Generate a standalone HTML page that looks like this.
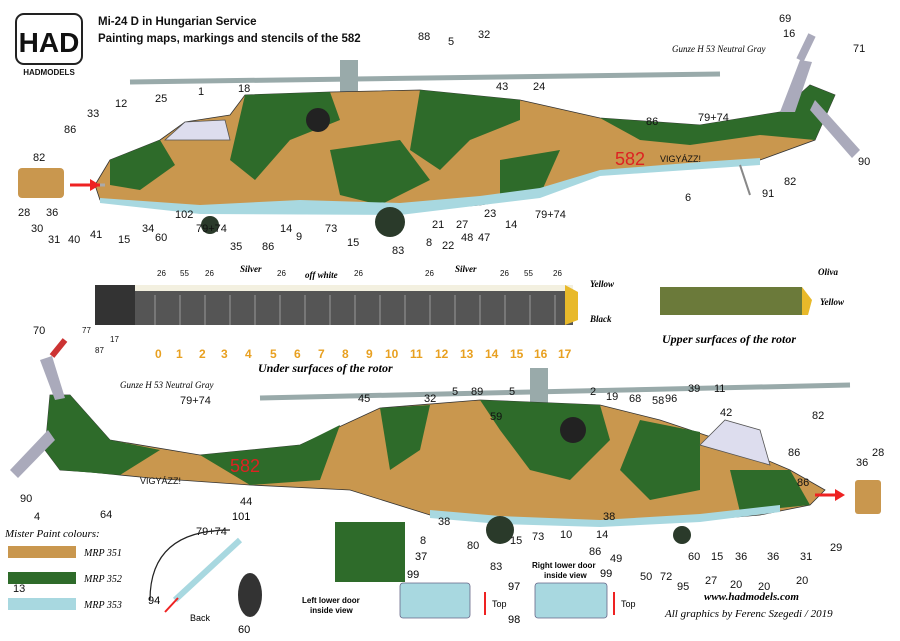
<!DOCTYPE html>
<html><head><meta charset="utf-8"><style>
body{margin:0;background:#fff;width:900px;height:636px;overflow:hidden;font-family:"Liberation Sans",sans-serif}
</style></head><body>
<svg width="900" height="636" viewBox="0 0 900 636" xmlns="http://www.w3.org/2000/svg" font-family="Liberation Sans, sans-serif">
<rect width="900" height="636" fill="#fff"/>
<!-- logo -->
<rect x="16" y="14" width="66" height="50" rx="8" fill="#fff" stroke="#222" stroke-width="2"/>
<text x="49" y="52" font-size="28" font-weight="bold" text-anchor="middle" fill="#111">HAD</text>
<text x="49" y="75" font-size="8" font-weight="bold" text-anchor="middle" fill="#111">HADMODELS</text>
<text x="98" y="25" font-size="11.5" font-weight="bold" fill="#111">Mi-24 D in Hungarian Service</text>
<text x="98" y="42" font-size="11.5" font-weight="bold" fill="#111">Painting maps, markings and stencils of the 582</text>

<!-- TOP HELICOPTER -->
<line x1="130" y1="82" x2="720" y2="74" stroke="#9aa" stroke-width="5"/>
<rect x="340" y="60" width="18" height="35" fill="#9aa"/>
<path d="M95,185 L110,160 L160,140 L185,122 L230,115 L245,95 L330,92 L420,90 L520,100 L600,118 L700,125 L780,112 L810,85 L835,95 L815,140 L760,160 L700,165 L600,172 L540,195 L480,205 L400,212 L300,210 L200,212 L130,205 L100,200 Z" fill="#c9974e" stroke="#333" stroke-width="0.8"/>
<path d="M245,95 L330,92 L340,120 L290,140 L255,180 L230,160 Z" fill="#2e6b2a"/>
<path d="M420,90 L520,100 L520,120 L470,140 L440,170 L410,150 Z" fill="#2e6b2a"/>
<path d="M600,118 L700,125 L780,112 L810,85 L835,95 L815,140 L760,135 L690,145 L640,140 Z" fill="#2e6b2a"/>
<path d="M110,160 L160,140 L175,165 L140,190 L110,185 Z" fill="#2e6b2a"/>
<path d="M330,150 L400,140 L430,180 L380,205 L340,195 Z" fill="#2e6b2a"/>
<path d="M500,160 L560,150 L540,195 L500,200 Z" fill="#2e6b2a"/>
<path d="M100,198 L200,205 L300,200 L400,203 L480,196 L540,188 L600,170 L700,162 L760,158 L760,165 L600,176 L540,198 L400,215 L200,214 L100,203 Z" fill="#a8d8e0"/>
<path d="M165,140 L185,122 L225,120 L230,140 Z" fill="#dde" stroke="#555" stroke-width="0.8"/>
<circle cx="318" cy="120" r="12" fill="#222"/>
<circle cx="210" cy="225" r="9" fill="#2a3a2a"/>
<circle cx="390" cy="222" r="15" fill="#2a3a2a"/>
<text x="615" y="165" font-size="18" fill="#d22">582</text>
<text x="660" y="162" font-size="9" fill="#111">VIGYÁZZ!</text>
<line x1="740" y1="165" x2="750" y2="195" stroke="#888" stroke-width="2"/>
<path d="M780,112 L800,60 L812,62 L795,112 Z" fill="#aab"/>
<path d="M815,100 L860,150 L852,158 L810,110 Z" fill="#aab"/>
<path d="M800,60 L812,35" stroke="#aab" stroke-width="8"/>
<path d="M80,185 L105,185" stroke="#aaa" stroke-width="3"/>
<rect x="18" y="168" width="46" height="30" rx="4" fill="#c9974e"/>
<path d="M70,185 L100,185" stroke="#e22" stroke-width="3"/>
<path d="M100,185 L90,179 L90,191 Z" fill="#e22"/>
<text x="672" y="52" font-size="9" font-style="italic" font-family="Liberation Serif,serif">Gunze H 53 Neutral Gray</text>
<g font-size="11" fill="#111">
<text x="779" y="22">69</text><text x="783" y="37">16</text><text x="853" y="52">71</text>
<text x="418" y="40">88</text><text x="448" y="45">5</text><text x="478" y="38">32</text>
<text x="496" y="90">43</text><text x="533" y="90">24</text><text x="238" y="92">18</text><text x="198" y="95">1</text>
<text x="155" y="102">25</text><text x="115" y="107">12</text><text x="87" y="117">33</text><text x="64" y="133">86</text>
<text x="33" y="161">82</text><text x="646" y="125">86</text><text x="698" y="121">79+74</text>
<text x="858" y="165">90</text><text x="784" y="185">82</text><text x="762" y="197">91</text><text x="685" y="201">6</text>
<text x="18" y="216">28</text><text x="46" y="216">36</text><text x="31" y="232">30</text><text x="48" y="243">31</text>
<text x="68" y="243">40</text><text x="90" y="238">41</text><text x="118" y="243">15</text><text x="142" y="232">34</text>
<text x="155" y="241">60</text><text x="175" y="218">102</text><text x="196" y="232">79+74</text><text x="230" y="250">35</text>
<text x="262" y="250">86</text><text x="280" y="232">14</text><text x="296" y="240">9</text><text x="325" y="232">73</text>
<text x="347" y="246">15</text><text x="392" y="254">83</text><text x="426" y="246">8</text><text x="432" y="228">21</text>
<text x="442" y="249">22</text><text x="456" y="228">27</text><text x="461" y="241">48</text><text x="478" y="241">47</text>
<text x="484" y="217">23</text><text x="505" y="228">14</text><text x="535" y="218">79+74</text>
</g>

<!-- ROTOR BLADE -->
<rect x="95" y="285" width="478" height="40" fill="#555"/>
<rect x="95" y="285" width="478" height="6" fill="#f3f0e0"/>
<rect x="95" y="285" width="40" height="40" fill="#333"/>
<path d="M565,285 L578,292 L578,320 L565,325 Z" fill="#e8b92a"/>
<g stroke="#999" stroke-width="1">
<line x1="155" y1="295" x2="155" y2="325"/><line x1="180" y1="295" x2="180" y2="325"/><line x1="205" y1="295" x2="205" y2="325"/><line x1="230" y1="295" x2="230" y2="325"/><line x1="255" y1="295" x2="255" y2="325"/><line x1="280" y1="295" x2="280" y2="325"/><line x1="305" y1="295" x2="305" y2="325"/><line x1="330" y1="295" x2="330" y2="325"/><line x1="355" y1="295" x2="355" y2="325"/><line x1="380" y1="295" x2="380" y2="325"/><line x1="405" y1="295" x2="405" y2="325"/><line x1="430" y1="295" x2="430" y2="325"/><line x1="455" y1="295" x2="455" y2="325"/><line x1="480" y1="295" x2="480" y2="325"/><line x1="505" y1="295" x2="505" y2="325"/><line x1="530" y1="295" x2="530" y2="325"/><line x1="555" y1="295" x2="555" y2="325"/>
</g>
<g font-size="8" fill="#111"><text x="157" y="276">26</text><text x="180" y="276">55</text><text x="205" y="276">26</text><text x="277" y="276">26</text><text x="354" y="276">26</text><text x="425" y="276">26</text><text x="500" y="276">26</text><text x="524" y="276">55</text><text x="553" y="276">26</text>
<text x="82" y="333">77</text><text x="110" y="342">17</text><text x="95" y="353">87</text></g>
<g font-size="9" font-style="italic" font-weight="bold" font-family="Liberation Serif,serif"><text x="240" y="272">Silver</text><text x="305" y="278">off white</text><text x="455" y="272">Silver</text><text x="590" y="287">Yellow</text><text x="590" y="322">Black</text></g>
<g font-size="12" font-weight="bold" fill="#e8a020">
<text x="155" y="358">0</text><text x="176" y="358">1</text><text x="199" y="358">2</text><text x="221" y="358">3</text><text x="245" y="358">4</text><text x="270" y="358">5</text><text x="294" y="358">6</text><text x="318" y="358">7</text><text x="342" y="358">8</text><text x="366" y="358">9</text><text x="385" y="358">10</text><text x="410" y="358">11</text><text x="435" y="358">12</text><text x="460" y="358">13</text><text x="485" y="358">14</text><text x="510" y="358">15</text><text x="534" y="358">16</text><text x="558" y="358">17</text></g>
<text x="258" y="372" font-size="12" font-weight="bold" font-style="italic" font-family="Liberation Serif,serif">Under surfaces of the rotor</text>
<rect x="660" y="287" width="142" height="28" fill="#6b7a3a"/>
<path d="M802,287 L812,300 L808,315 L802,315 Z" fill="#e8b92a"/>
<text x="818" y="275" font-size="9" font-style="italic" font-weight="bold" font-family="Liberation Serif,serif">Oliva</text>
<text x="820" y="305" font-size="9" font-style="italic" font-weight="bold" font-family="Liberation Serif,serif">Yellow</text>
<text x="662" y="343" font-size="12" font-weight="bold" font-style="italic" font-family="Liberation Serif,serif">Upper surfaces of the rotor</text>

<!-- BOTTOM HELICOPTER -->
<line x1="260" y1="398" x2="850" y2="385" stroke="#9aa" stroke-width="5"/>
<rect x="530" y="368" width="18" height="35" fill="#9aa"/>
<path d="M50,395 L70,395 L110,440 L200,455 L300,445 L380,408 L480,400 L600,405 L660,420 L720,440 L790,470 L825,490 L810,505 L760,515 L700,520 L600,525 L500,522 L430,515 L350,490 L250,485 L150,478 L90,472 L60,470 L45,450 Z" fill="#c9974e" stroke="#333" stroke-width="0.8"/>
<path d="M50,395 L70,395 L110,440 L160,450 L120,475 L60,470 L45,450 Z" fill="#2e6b2a"/>
<path d="M200,455 L300,445 L340,425 L320,480 L250,485 Z" fill="#2e6b2a"/>
<path d="M480,400 L600,405 L610,440 L570,480 L530,470 L500,430 Z" fill="#2e6b2a"/>
<path d="M380,408 L430,405 L420,450 L390,470 Z" fill="#2e6b2a"/>
<path d="M640,420 L700,432 L700,490 L650,500 L620,470 Z" fill="#2e6b2a"/>
<path d="M730,470 L790,470 L810,505 L740,512 Z" fill="#2e6b2a"/>
<path d="M430,510 L500,516 L600,520 L700,514 L780,505 L780,512 L700,522 L600,527 L500,524 L430,518 Z" fill="#a8d8e0"/>
<path d="M700,445 L725,420 L760,430 L770,465 Z" fill="#dde" stroke="#555" stroke-width="0.8"/>
<circle cx="573" cy="430" r="13" fill="#222"/>
<circle cx="500" cy="530" r="14" fill="#2a3a2a"/>
<circle cx="682" cy="535" r="9" fill="#2a3a2a"/>
<text x="230" y="472" font-size="18" fill="#d22">582</text>
<text x="140" y="484" font-size="9" fill="#111">VIGYÁZZ!</text>
<path d="M55,400 L40,360 L52,356 L65,398 Z" fill="#aab"/>
<path d="M48,430 L10,470 L18,478 L55,440 Z" fill="#aab"/>
<path d="M52,356 L65,340" stroke="#c33" stroke-width="6"/>
<rect x="855" y="480" width="26" height="34" rx="3" fill="#c9974e"/>
<path d="M815,495 L840,495" stroke="#e22" stroke-width="3"/>
<path d="M845,495 L835,489 L835,501 Z" fill="#e22"/>
<text x="120" y="388" font-size="9" font-style="italic" font-family="Liberation Serif,serif">Gunze H 53 Neutral Gray</text>
<g font-size="11" fill="#111">
<text x="33" y="334">70</text><text x="180" y="404">79+74</text><text x="358" y="402">45</text><text x="424" y="402">32</text>
<text x="452" y="395">5</text><text x="471" y="395">89</text><text x="509" y="395">5</text><text x="490" y="420">59</text>
<text x="590" y="395">2</text><text x="606" y="400">19</text><text x="629" y="402">68</text><text x="652" y="404">58</text>
<text x="665" y="402">96</text><text x="688" y="392">39</text><text x="714" y="392">11</text><text x="720" y="416">42</text>
<text x="812" y="419">82</text><text x="872" y="456">28</text><text x="856" y="466">36</text><text x="788" y="456">86</text><text x="797" y="486">86</text>
<text x="20" y="502">90</text><text x="34" y="520">4</text><text x="100" y="518">64</text><text x="240" y="505">44</text>
<text x="196" y="535">79+74</text><text x="438" y="525">38</text><text x="420" y="544">8</text><text x="467" y="549">80</text>
<text x="490" y="570">83</text><text x="510" y="544">15</text><text x="532" y="540">73</text><text x="560" y="538">10</text>
<text x="596" y="538">14</text><text x="589" y="555">86</text><text x="603" y="520">38</text><text x="610" y="562">49</text>
<text x="640" y="580">50</text><text x="660" y="580">72</text><text x="677" y="590">95</text><text x="688" y="560">60</text>
<text x="705" y="584">27</text><text x="711" y="560">15</text><text x="730" y="588">20</text><text x="735" y="560">36</text>
<text x="767" y="560">36</text><text x="758" y="590">20</text><text x="796" y="584">20</text><text x="800" y="560">31</text><text x="830" y="551">29</text>
</g>
<text x="13" y="592" font-size="11" fill="#111">13</text><text x="415" y="560" font-size="11">37</text>
<rect x="335" y="522" width="70" height="60" fill="#2e6b2a"/>
<text x="5" y="537" font-size="11" font-style="italic" font-family="Liberation Serif,serif">Mister Paint colours:</text>
<rect x="8" y="546" width="68" height="12" fill="#c9974e"/><text x="84" y="556" font-size="10" font-style="italic" font-family="Liberation Serif,serif">MRP 351</text>
<rect x="8" y="572" width="68" height="12" fill="#2e6b2a"/><text x="84" y="582" font-size="10" font-style="italic" font-family="Liberation Serif,serif">MRP 352</text>
<rect x="8" y="598" width="68" height="12" fill="#a8d8e0"/><text x="84" y="608" font-size="10" font-style="italic" font-family="Liberation Serif,serif">MRP 353</text>
<path d="M150,600 Q150,530 230,530" fill="none" stroke="#222" stroke-width="1.2"/>
<path d="M175,600 L240,540" stroke="#a8d8e0" stroke-width="6"/>
<ellipse cx="250" cy="595" rx="12" ry="22" fill="#333"/>
<text x="232" y="520" font-size="11">101</text><text x="148" y="604" font-size="11">94</text><text x="238" y="633" font-size="11">60</text><text x="190" y="621" font-size="9">Back</text>
<path d="M178,598 L165,612" stroke="#e22" stroke-width="2"/>
<text x="302" y="603" font-size="8" font-weight="bold">Left lower door</text><text x="310" y="613" font-size="8" font-weight="bold">inside view</text>
<rect x="400" y="583" width="70" height="35" rx="3" fill="#a8d8e0" stroke="#668" stroke-width="0.8"/>
<text x="407" y="578" font-size="11">99</text>
<text x="492" y="607" font-size="9">Top</text><line x1="485" y1="615" x2="485" y2="592" stroke="#e22" stroke-width="2"/>
<text x="532" y="568" font-size="8" font-weight="bold">Right lower door</text><text x="544" y="578" font-size="8" font-weight="bold">inside view</text>
<rect x="535" y="583" width="72" height="35" rx="3" fill="#a8d8e0" stroke="#668" stroke-width="0.8"/>
<text x="600" y="577" font-size="11">99</text><text x="508" y="590" font-size="11">97</text><text x="508" y="623" font-size="11">98</text>
<text x="621" y="607" font-size="9">Top</text><line x1="614" y1="615" x2="614" y2="592" stroke="#e22" stroke-width="2"/>
<text x="704" y="600" font-size="11" font-style="italic" font-weight="bold" font-family="Liberation Serif,serif">www.hadmodels.com</text>
<text x="665" y="617" font-size="11" font-style="italic" font-family="Liberation Serif,serif">All graphics by Ferenc Szegedi  / 2019</text>
</svg>
</body></html>
